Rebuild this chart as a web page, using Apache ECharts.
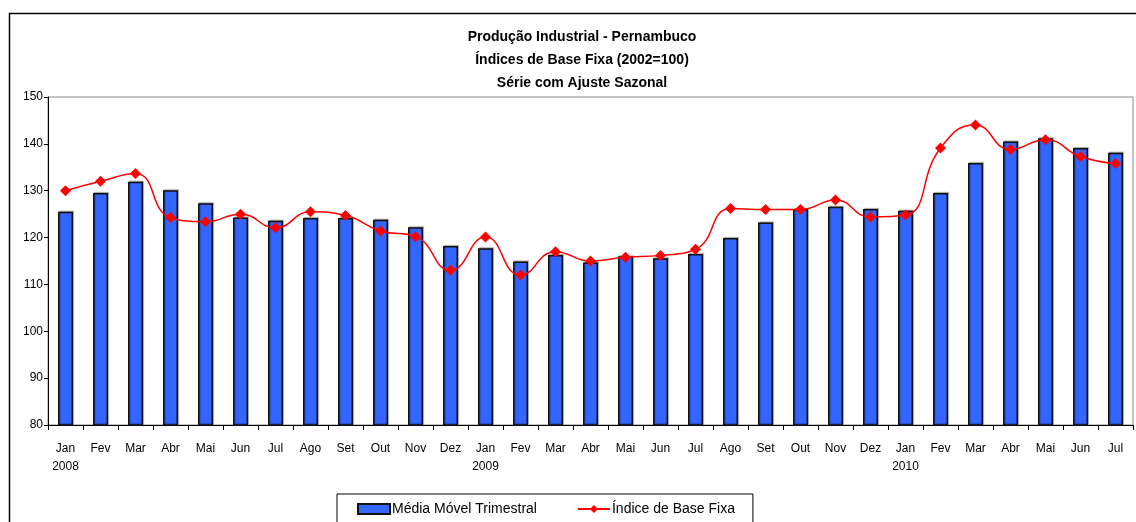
<!DOCTYPE html>
<html>
<head>
<meta charset="utf-8">
<title>Produção Industrial - Pernambuco</title>
<script src="https://cdn.jsdelivr.net/npm/echarts@6/dist/echarts.min.js"></script>
<style>
  html, body { margin: 0; padding: 0; background: #fff; }
  #chart { width: 1136px; height: 522px; }
</style>
</head>
<body>
<div id="chart"></div>
<script>
// meses jan/2008 .. jul/2010
const months = ['Jan','Fev','Mar','Abr','Mai','Jun','Jul','Ago','Set','Out','Nov','Dez',
  'Jan','Fev','Mar','Abr','Mai','Jun','Jul','Ago','Set','Out','Nov','Dez',
  'Jan','Fev','Mar','Abr','Mai','Jun','Jul']
const years = { 0: '2008', 12: '2009', 24: '2010' }

const mediaMovel = [125.5, 129.5, 131.9, 130.1, 127.3, 124.3, 123.6, 124.2, 124.2, 123.8, 122.2, 118.2,
  117.7, 114.9, 116.3, 114.7, 116.0, 115.6, 116.5, 119.9, 123.2, 126.1, 126.6, 126.1,
  125.7, 129.5, 135.9, 140.5, 141.2, 139.1, 138.1]
const indiceBase = [130.0, 132.0, 133.7, 124.3, 123.4, 125.0, 122.1, 125.5, 124.7, 121.4, 120.2, 113.0,
  120.1, 112.0, 117.0, 115.0, 115.8, 116.2, 117.5, 126.2, 126.0, 126.0, 128.0, 124.4,
  124.8, 139.1, 144.0, 138.8, 140.9, 137.3, 135.8]

const categories = months.map((m, i) => years[i] ? m + '\n' + years[i] : m)

const font = '"Liberation Sans", Arial, sans-serif'

const chart = echarts.init(document.getElementById('chart'), null, { renderer: 'canvas' })
const option = {
  animation: false,
  backgroundColor: '#fff',
  textStyle: { fontFamily: font, color: '#000' },
  graphic: [
    {
      type: 'rect',
      shape: { x: 9.5, y: 13.5, width: 1140, height: 530 },
      style: { fill: 'none', stroke: '#000', lineWidth: 1.5 },
      silent: true
    }
  ],
  title: {
    text: 'Produção Industrial - Pernambuco\nÍndices de Base Fixa (2002=100)\nSérie com Ajuste Sazonal',
    left: 577,
    top: 21,
    textAlign: 'center',
    textStyle: {
      fontFamily: font,
      fontSize: 14,
      fontWeight: 'bold',
      lineHeight: 23,
      color: '#000'
    }
  },
  legend: {
    top: 494,
    left: 337,
    padding: [8, 18, 20, 20],
    itemGap: 40,
    itemWidth: 32,
    itemHeight: 10,
    borderColor: '#000',
    borderWidth: 1,
    textStyle: { fontFamily: font, fontSize: 14, color: '#000', padding: [0, 0, 0, -3] },
    data: [
      { name: 'Média Móvel Trimestral', icon: 'rect' },
      { name: 'Índice de Base Fixa' }
    ]
  },
  grid: {
    left: 48,
    right: 3,
    top: 97,
    bottom: 97,
    show: true,
    borderColor: '#888',
    borderWidth: 1
  },
  xAxis: {
    type: 'category',
    data: categories,
    boundaryGap: true,
    axisLine: { lineStyle: { color: '#000', width: 1 } },
    axisTick: { show: true, alignWithLabel: false, length: 5, lineStyle: { color: '#000' } },
    axisLabel: {
      interval: 0,
      margin: 15,
      fontSize: 12,
      lineHeight: 18,
      color: '#000',
      fontFamily: font,
      align: 'center',
      verticalAlign: 'top'
    }
  },
  yAxis: {
    type: 'value',
    min: 80,
    max: 150,
    interval: 10,
    axisLine: { show: true, lineStyle: { color: '#000', width: 1 } },
    axisTick: { show: true, length: 4, lineStyle: { color: '#000' } },
    splitLine: { show: false },
    axisLabel: { fontSize: 12, color: '#000', margin: 5, fontFamily: font }
  },
  series: [
    {
      name: 'Média Móvel Trimestral',
      type: 'bar',
      data: mediaMovel,
      barWidth: 15,
      itemStyle: {
        color: '#3366FF',
        borderColor: '#111',
        borderWidth: 1.5,
        shadowColor: 'rgba(0,0,0,0.3)',
        shadowOffsetX: 1,
        shadowOffsetY: -1,
        shadowBlur: 1
      },
      z: 2
    },
    {
      name: 'Índice de Base Fixa',
      type: 'line',
      data: indiceBase,
      smooth: 0.5,
      symbol: 'diamond',
      symbolSize: 11,
      lineStyle: { color: '#FF0000', width: 1.5 },
      itemStyle: { color: '#FF0000' },
      z: 3
    }
  ]
}
chart.setOption(option)
</script>
</body>
</html>
